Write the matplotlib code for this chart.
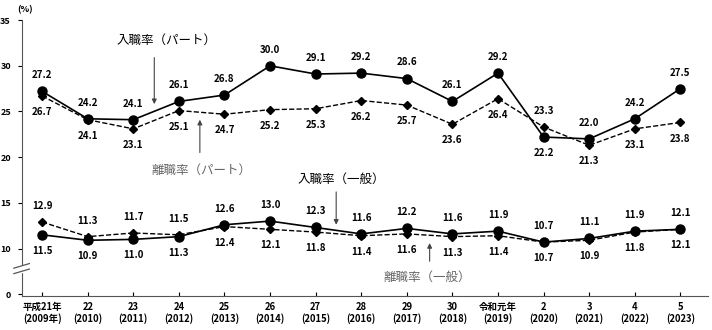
import matplotlib.pyplot as plt
from matplotlib.lines import Line2D

plt.rcParams['font.family'] = ['Noto Sans CJK JP', 'DejaVu Sans']

years = ["平成21年\n(2009年)", "22\n(2010)", "23\n(2011)", "24\n(2012)", "25\n(2013)",
         "26\n(2014)", "27\n(2015)", "28\n(2016)", "29\n(2017)", "30\n(2018)",
         "令和元年\n(2019)", "2\n(2020)", "3\n(2021)", "4\n(2022)", "5\n(2023)"]

entry_part = [27.2, 24.2, 24.1, 26.1, 26.8, 30.0, 29.1, 29.2, 28.6, 26.1, 29.2, 22.2, 22.0, 24.2, 27.5]
sep_part = [26.7, 24.1, 23.1, 25.1, 24.7, 25.2, 25.3, 26.2, 25.7, 23.6, 26.4, 23.3, 21.3, 23.1, 23.8]
entry_gen = [11.5, 10.9, 11.0, 11.3, 12.6, 13.0, 12.3, 11.6, 12.2, 11.6, 11.9, 10.7, 11.1, 11.9, 12.1]
sep_gen = [12.9, 11.3, 11.7, 11.5, 12.4, 12.1, 11.8, 11.4, 11.6, 11.3, 11.4, 10.7, 10.9, 11.8, 12.1]

x = list(range(len(years)))

fig = plt.figure(figsize=(7.12, 3.30), dpi=100)
ax = fig.add_axes([0.031, 0.103, 0.963, 0.836])

ax.plot(x, entry_part, color='black', lw=1.2, marker='o', ms=6.5)
ax.plot(x, sep_part, color='black', lw=1.0, ls='--', marker='D', ms=4)
ax.plot(x, entry_gen, color='black', lw=1.2, marker='o', ms=6.5)
ax.plot(x, sep_gen, color='black', lw=1.0, ls='--', marker='D', ms=4)


def put_labels(a, b):
    # the higher value of the pair goes above, the other below
    for i, (va, vb) in enumerate(zip(a, b)):
        if va >= vb:
            top, bot = va, vb
        else:
            top, bot = vb, va
        ax.annotate(f"{top:.1f}", (i, top), xytext=(0, 8), textcoords='offset points',
                    ha='center', va='bottom', fontsize=7, fontweight='bold')
        ax.annotate(f"{bot:.1f}", (i, bot), xytext=(0, -8), textcoords='offset points',
                    ha='center', va='top', fontsize=7, fontweight='bold')


put_labels(entry_part, sep_part)
put_labels(entry_gen, sep_gen)

ax.set_xlim(-0.44, 14.6)
ax.set_ylim(4.8, 35)
ax.set_yticks([5, 10, 15, 20, 25, 30, 35])
ax.set_yticklabels(['0', '10', '15', '20', '25', '30', '35'], fontsize=6.5, fontweight='bold')
ax.set_xticks(x)
ax.set_xticklabels(years, fontsize=6.8, fontweight='bold')
ax.tick_params(axis='x', direction='in', length=3, pad=4)
ax.tick_params(axis='y', direction='out', length=3, pad=5)
for s in ['top', 'right']:
    ax.spines[s].set_visible(False)
ax.spines['left'].set_color('#555555')
ax.spines['bottom'].set_color('#555555')

ax.text(-0.2, 35.6, "(%)", fontsize=6.5, fontweight='bold', ha='right', va='bottom')

# axis break marks
ax.add_patch(plt.Rectangle((-0.6, 7.4), 0.5, 0.7, transform=ax.transData,
                           color='white', clip_on=False, zorder=5))
for yb in (7.5, 8.1):
    ax.add_line(Line2D([-0.62, -0.28], [yb - 0.25, yb + 0.25], color='#555555',
                       lw=0.9, clip_on=False, zorder=6))

# series annotations
ax.text(2.72, 32.8, "入職率（パート）", fontsize=9, ha='center', va='center')
ax.annotate("", xy=(2.46, 25.5), xytext=(2.46, 31.2),
            arrowprops=dict(arrowstyle='-|>', color='#444444', lw=0.8, mutation_scale=7))
ax.text(3.5, 18.6, "離職率（パート）", fontsize=9, ha='center', va='center', color='#666666')
ax.annotate("", xy=(3.46, 24.4), xytext=(3.46, 20.2),
            arrowprops=dict(arrowstyle='-|>', color='#444444', lw=0.8, mutation_scale=7))
ax.text(6.56, 17.6, "入職率（一般）", fontsize=9, ha='center', va='center')
ax.annotate("", xy=(6.45, 12.3), xytext=(6.45, 16.5),
            arrowprops=dict(arrowstyle='-|>', color='#444444', lw=0.8, mutation_scale=7))
ax.text(8.44, 6.9, "離職率（一般）", fontsize=9, ha='center', va='center', color='#666666')
ax.annotate("", xy=(8.5, 10.9), xytext=(8.5, 8.3),
            arrowprops=dict(arrowstyle='-|>', color='#444444', lw=0.8, mutation_scale=7))

fig.savefig("out.png", dpi=100)
